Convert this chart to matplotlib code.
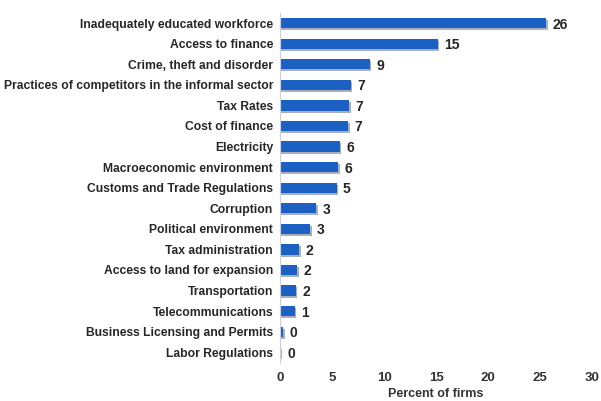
import matplotlib
matplotlib.use("Agg")
import matplotlib.pyplot as plt
import matplotlib.patheffects as pe

categories = ["Inadequately educated workforce", "Access to finance", "Crime, theft and disorder",
              "Practices of competitors in the informal sector", "Tax Rates", "Cost of finance",
              "Electricity", "Macroeconomic environment", "Customs and Trade Regulations",
              "Corruption", "Political environment", "Tax administration",
              "Access to land for expansion", "Transportation", "Telecommunications",
              "Business Licensing and Permits", "Labor Regulations"]
values = [25.6, 15.2, 8.65, 6.8, 6.67, 6.57, 5.77, 5.6, 5.45, 3.5, 2.9, 1.86, 1.67, 1.54, 1.44, 0.32, 0.1]
labels = ["26", "15", "9", "7", "7", "7", "6", "6", "5", "3", "3", "2", "2", "2", "1", "0", "0"]
xticks = [0, 5, 10, 15, 20, 25, 30]

plt.rcParams['font.family'] = ['Liberation Sans', 'DejaVu Sans']
fig = plt.figure(figsize=(6.01, 4.01), dpi=100)
ax = fig.add_axes([0.466, 0.096, 0.519, 0.872])
y = list(range(len(categories)))
bars = ax.barh(y, values, height=0.5, color="#1c60c4",
               path_effects=[pe.withSimplePatchShadow(offset=(1, -1.5), alpha=0.35)])
for yi, v, lab in zip(y, values, labels):
    ax.text(v + 0.6, yi, lab, va="center_baseline", ha="left", fontsize=10, fontweight="bold", color="#262626")
ax.set_yticks(y)
ax.set_yticklabels(categories, fontsize=8.7, fontweight="bold", color="#262626")
ax.set_ylim(len(categories) - 0.5, -0.5)
ax.set_xlim(0, 30)
ax.set_xticks(xticks)
ax.set_xticklabels([str(t) for t in xticks], fontsize=9.5, fontweight="bold", color="#333333")
ax.tick_params(axis="x", length=0, pad=7)
ax.tick_params(axis="y", length=0, pad=5)
for s in ["top", "right", "bottom"]:
    ax.spines[s].set_visible(False)
ax.spines["left"].set_color("#d0d0d0")
ax.set_xlabel("Percent of firms", fontsize=9, fontweight="bold", color="#333333", labelpad=3)
fig.savefig("out.png", dpi=100)
